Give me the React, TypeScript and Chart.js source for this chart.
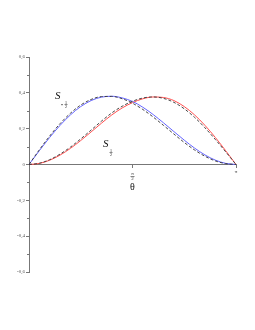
import React, { useEffect, useRef } from "react";
import { Chart, registerables } from "chart.js";

Chart.register(...registerables);

// theta in units of pi
const thetaPi = [0, 0.05, 0.1, 0.15, 0.2, 0.25, 0.3, 0.35, 0.4, 0.45, 0.5, 0.55, 0.6, 0.65, 0.7, 0.75, 0.8, 0.85, 0.9, 0.95, 1];
const sMinusHalf = [0, 0.0772, 0.1511, 0.2185, 0.2767, 0.3234, 0.3568, 0.376, 0.3809, 0.3718, 0.352, 0.3195, 0.2787, 0.2324, 0.1838, 0.1359, 0.0915, 0.0535, 0.0245, 0.0063, 0];
const sMinusHalfApprox = [0, 0.082, 0.159, 0.228, 0.286, 0.332, 0.363, 0.379, 0.38, 0.367, 0.342, 0.307, 0.265, 0.218, 0.17, 0.123, 0.081, 0.046, 0.02, 0.005, 0];
const sPlusHalf = [0, 0.0061, 0.0239, 0.0525, 0.0899, 0.1339, 0.1818, 0.2304, 0.2767, 0.3155, 0.3455, 0.3668, 0.3769, 0.374, 0.3568, 0.3234, 0.2767, 0.2185, 0.1511, 0.0772, 0];
const sPlusHalfApprox = [0, 0.007, 0.027, 0.058, 0.097, 0.143, 0.192, 0.242, 0.288, 0.325, 0.353, 0.371, 0.377, 0.369, 0.347, 0.311, 0.263, 0.205, 0.14, 0.071, 0];
const yTicks = [-0.6, -0.4, -0.2, 0, 0.2, 0.4, 0.6];
const yMinorTicks = [-0.5, -0.3, -0.1, 0.1, 0.3, 0.5];

const pts = (vals: number[]) => vals.map((v, i) => ({ x: thetaPi[i] * Math.PI, y: v }));

const overlay = {
  id: "overlay",
  afterDraw(chart: any) {
    const ctx = chart.ctx;
    const xs = chart.scales.x;
    const ys = chart.scales.y;
    const y0 = ys.getPixelForValue(0);
    const axX = chart.chartArea.left;
    ctx.save();
    // minor y ticks
    ctx.strokeStyle = "#777";
    ctx.lineWidth = 1;
    yMinorTicks.forEach((v) => {
      const py = Math.round(ys.getPixelForValue(v)) + 0.5;
      ctx.beginPath();
      ctx.moveTo(axX - 2, py);
      ctx.lineTo(axX, py);
      ctx.stroke();
    });
    // x tick labels
    ctx.fillStyle = "#333";
    ctx.textAlign = "center";
    ctx.textBaseline = "middle";
    const xh = xs.getPixelForValue(Math.PI / 2);
    const xp = xs.getPixelForValue(Math.PI);
    ctx.font = "5px 'Liberation Serif', serif";
    ctx.fillText("π", xh, y0 + 9);
    ctx.fillRect(xh - 2, y0 + 11.5, 4, 0.6);
    ctx.fillText("2", xh, y0 + 14);
    ctx.fillText("π", xp, y0 + 7);
    // axis title
    ctx.fillStyle = "#111";
    ctx.font = "10px 'Liberation Serif', serif";
    ctx.fillText("θ", xh, y0 + 23);
    // S labels
    const drawS = (x: number, y: number, neg: boolean) => {
      ctx.fillStyle = "#111";
      ctx.textAlign = "left";
      ctx.textBaseline = "alphabetic";
      ctx.font = "italic 11px 'Liberation Serif', serif";
      ctx.fillText("S", x, y);
      ctx.font = "4px 'Liberation Serif', serif";
      ctx.textAlign = "center";
      const fx = x + (neg ? 11 : 8);
      if (neg) ctx.fillRect(fx - 5, y + 5.5, 2, 0.6);
      ctx.fillText("1", fx, y + 4.5);
      ctx.fillRect(fx - 1.5, y + 5.5, 3, 0.5);
      ctx.fillText("2", fx, y + 9);
    };
    drawS(55, 99, true);
    drawS(103, 147, false);
    ctx.restore();
  },
};

export default function App() {
  const ref = useRef<HTMLCanvasElement>(null);
  useEffect(() => {
    if (!ref.current) return;
    const dashed = { borderColor: "#333", borderDash: [3, 2], borderWidth: 0.9 };
    const chart = new Chart(ref.current, {
      type: "line",
      data: {
        datasets: [
          { data: pts(sMinusHalfApprox), ...dashed },
          { data: pts(sPlusHalfApprox), ...dashed },
          { data: pts(sMinusHalf), borderColor: "rgb(100,100,255)", borderWidth: 1 },
          { data: pts(sPlusHalf), borderColor: "rgb(255,80,80)", borderWidth: 1 },
        ],
      },
      options: {
        responsive: false,
        animation: false,
        events: [],
        layout: { padding: { left: 0, top: 57, right: 19, bottom: 58 } },
        elements: { point: { radius: 0 }, line: { tension: 0.4, cubicInterpolationMode: "monotone" } },
        plugins: { legend: { display: false }, tooltip: { enabled: false } },
        scales: {
          x: {
            type: "linear",
            min: 0,
            max: Math.PI,
            position: { y: 0 },
            afterBuildTicks: (s: any) => {
              s.ticks = [{ value: Math.PI / 2 }, { value: Math.PI }];
            },
            ticks: { display: false },
            grid: { drawOnChartArea: false, drawTicks: true, tickLength: 3, color: "#777" },
            border: { display: true, color: "#777", width: 1 },
          },
          y: {
            type: "linear",
            min: -0.6,
            max: 0.6,
            afterBuildTicks: (s: any) => {
              s.ticks = yTicks.map((v) => ({ value: v }));
            },
            afterFit: (s: any) => {
              s.width = 29;
            },
            ticks: {
              color: "#555",
              font: { size: 5, family: "'Liberation Serif', serif" },
              padding: 1,
              callback: (v: any) => {
                const n = Math.round(Number(v) * 10) / 10;
                return n === 0 ? "0" : n.toFixed(1).replace(".", ",");
              },
            },
            grid: { drawOnChartArea: false, drawTicks: true, tickLength: 3, color: "#777" },
            border: { display: true, color: "#777", width: 1 },
          },
        },
      },
      plugins: [overlay],
    });
    return () => chart.destroy();
  }, []);
  return (
    <div style={{ position: "fixed", left: 0, top: 0, width: 255, height: 330, background: "#fff" }}>
      <canvas ref={ref} width={255} height={330} style={{ display: "block", width: 255, height: 330 }} />
    </div>
  );
}
